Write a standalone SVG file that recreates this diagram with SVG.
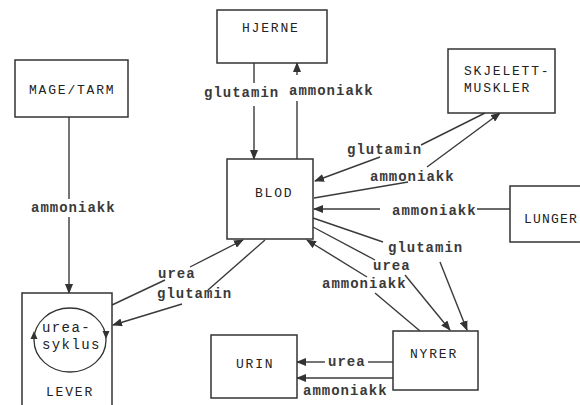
<svg xmlns="http://www.w3.org/2000/svg" width="580" height="405" viewBox="0 0 580 405">
<defs>
<style>
.box{fill:#fff;stroke:#333;stroke-width:1.5}
.bl{font-family:"Liberation Mono","DejaVu Sans Mono",monospace;font-size:13px;letter-spacing:1.8px;fill:#222}
.lb{font-family:"Liberation Mono","DejaVu Sans Mono",monospace;font-size:14px;font-weight:bold;letter-spacing:1px;fill:#3a3a3a}
.cy{font-family:"Liberation Mono","DejaVu Sans Mono",monospace;font-size:14px;letter-spacing:1.4px;fill:#222}
.ln{fill:none;stroke:#3a3a3a;stroke-width:1.4}
.ah{fill:#333}
</style>
<marker id="arr" markerUnits="userSpaceOnUse" markerWidth="10" markerHeight="8" refX="9" refY="4" orient="auto">
<path d="M0,0 L10,4 L0,8 Z" fill="#333"/>
</marker>
</defs>
<rect width="580" height="405" fill="#fff"/>

<g id="connectors">
<line class="ln" x1="69" y1="117" x2="69" y2="199"/>
<line class="ln" x1="69" y1="217" x2="69" y2="293" marker-end="url(#arr)"/>
<text class="lb" x="31" y="212">ammoniakk</text>

<line class="ln" x1="254" y1="63" x2="254" y2="83"/>
<line class="ln" x1="254" y1="106" x2="254" y2="159" marker-end="url(#arr)"/>
<text class="lb" x="204" y="97">glutamin</text>

<line class="ln" x1="297" y1="159" x2="297" y2="101"/>
<line class="ln" x1="297" y1="75" x2="297" y2="63" marker-end="url(#arr)"/>
<text class="lb" x="289" y="95">ammoniakk</text>

<line class="ln" x1="485" y1="113" x2="421" y2="145"/>
<line class="ln" x1="380" y1="157" x2="315" y2="181" marker-end="url(#arr)"/>
<text class="lb" x="347" y="154">glutamin</text>

<line class="ln" x1="314" y1="198" x2="408" y2="182"/>
<line class="ln" x1="427" y1="167" x2="500" y2="113" marker-end="url(#arr)"/>
<text class="lb" x="370" y="181">ammoniakk</text>

<line class="ln" x1="510" y1="209" x2="477" y2="209"/>
<line class="ln" x1="380" y1="209" x2="314" y2="209" marker-end="url(#arr)"/>
<text class="lb" x="392" y="215">ammoniakk</text>

<line class="ln" x1="313" y1="218" x2="383" y2="242"/>
<line class="ln" x1="440" y1="262" x2="467" y2="330" marker-end="url(#arr)"/>
<text class="lb" x="388" y="252">glutamin</text>

<line class="ln" x1="313" y1="227" x2="375" y2="260"/>
<line class="ln" x1="405" y1="275" x2="450" y2="330" marker-end="url(#arr)"/>
<text class="lb" x="373" y="270">urea</text>

<line class="ln" x1="420" y1="331" x2="375" y2="293"/>
<line class="ln" x1="367" y1="277" x2="307" y2="240" marker-end="url(#arr)"/>
<text class="lb" x="322" y="288">ammoniakk</text>

<line class="ln" x1="112" y1="305" x2="165" y2="280"/>
<line class="ln" x1="190" y1="267" x2="243" y2="240" marker-end="url(#arr)"/>
<text class="lb" x="158" y="278">urea</text>

<line class="ln" x1="265" y1="240" x2="208" y2="290"/>
<line class="ln" x1="182" y1="304" x2="113" y2="325" marker-end="url(#arr)"/>
<text class="lb" x="157" y="298">glutamin</text>

<line class="ln" x1="393" y1="362" x2="368" y2="362"/>
<line class="ln" x1="325" y1="362" x2="297" y2="362" marker-end="url(#arr)"/>
<text class="lb" x="328" y="366">urea</text>

<line class="ln" x1="393" y1="378" x2="297" y2="378" marker-end="url(#arr)"/>
<text class="lb" x="303" y="395">ammoniakk</text>
</g>

<g id="mage">
<rect class="box" x="15" y="60" width="113" height="57"/>
<text class="bl" x="29" y="94">MAGE/TARM</text>
</g>

<g id="hjerne">
<rect class="box" x="217" y="10" width="110" height="53"/>
<text class="bl" x="242" y="32">HJERNE</text>
</g>

<g id="skjelett">
<rect class="box" x="448" y="49" width="107" height="64"/>
<text class="bl" x="464" y="75">SKJELETT-</text>
<text class="bl" x="464" y="92">MUSKLER</text>
</g>

<g id="blod">
<rect class="box" x="227" y="159" width="86" height="80"/>
<text class="bl" x="255" y="197">BLOD</text>
</g>

<g id="lunger">
<rect class="box" x="510" y="186" width="85" height="56"/>
<text class="bl" x="524" y="223" style="letter-spacing:1.2px">LUNGER</text>
</g>

<g id="nyrer">
<rect class="box" x="393" y="331" width="85" height="59"/>
<text class="bl" x="410" y="358">NYRER</text>
</g>

<g id="urin">
<rect class="box" x="211" y="335" width="86" height="63"/>
<text class="bl" x="236" y="368">URIN</text>
</g>

<g id="lever">
<rect class="box" x="22" y="293" width="90" height="125"/>
<ellipse cx="70" cy="340" rx="36" ry="32" fill="none" stroke="#333" stroke-width="1.3"/>
<path class="ah" d="M34,331 L30.5,339 L37.5,339 Z"/>
<path class="ah" d="M106,339 L102.5,331 L109.5,331 Z"/>
<text class="cy" x="42" y="332">urea-</text>
<text class="cy" x="42" y="349">syklus</text>
<text class="bl" x="46" y="396">LEVER</text>
</g>
</svg>
